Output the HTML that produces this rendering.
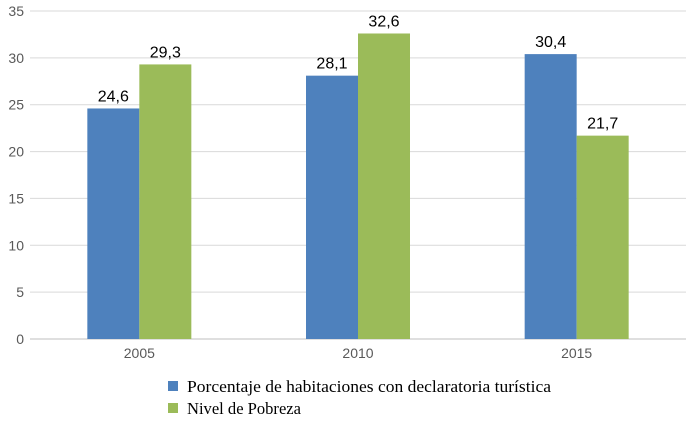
<!DOCTYPE html>
<html><head><meta charset="utf-8"><style>
html,body{margin:0;padding:0;background:#fff;}
svg{display:block;}
</style></head><body>
<svg id="chart" width="691" height="423" xmlns="http://www.w3.org/2000/svg">
<g id="grid"></g>
<g id="yticks"></g>
<g id="bars"></g>
<g id="xticks"></g>
<g>
  <rect x="168" y="381" width="10" height="10" fill="#4e81bd"/>
  <text x="187" y="392" font-family="Liberation Serif, serif" font-size="17" fill="#000" textLength="364" lengthAdjust="spacingAndGlyphs">Porcentaje de habitaciones con declaratoria turística</text>
  <rect x="168" y="403" width="10" height="10" fill="#9bbb59"/>
  <text x="187" y="414" font-family="Liberation Serif, serif" font-size="17" fill="#000" textLength="114" lengthAdjust="spacingAndGlyphs">Nivel de Pobreza</text>
</g>
</svg>
<script>
const categories = ["2005","2010","2015"];
const habitaciones = [24.6, 28.1, 30.4];
const pobreza = [29.3, 32.6, 21.7];
const yTicks = [0,5,10,15,20,25,30,35];
const valueLabels1 = ["24,6","28,1","30,4"];
const valueLabels2 = ["29,3","32,6","21,7"];

const NS="http://www.w3.org/2000/svg";
const left=30, right=686, y0=339, yTop=11, yMax=35;
const yS=v=>y0-(v/yMax)*(y0-yTop);
const catW=(right-left)/categories.length;
const cx=i=>left+catW*(i+0.5);
const bw=52;
function mk(tag,attrs,parent){const e=document.createElementNS(NS,tag);for(const k in attrs)e.setAttribute(k,attrs[k]);parent.appendChild(e);return e;}
const grid=document.getElementById('grid'),yt=document.getElementById('yticks'),bars=document.getElementById('bars'),xt=document.getElementById('xticks');
yTicks.forEach(v=>{
  const l=mk('line',{x1:left,x2:right,y1:yS(v),y2:yS(v),stroke:v===0?'#bfbfbf':'#d9d9d9','stroke-width':1},grid);
  
  
  const t=mk('text',{x:24,y:yS(v)+5,'text-anchor':'end','font-family':'Liberation Sans, sans-serif','font-size':14,fill:'#595959'},yt);
  t.textContent=v;
  
  
});
categories.forEach((c,i)=>{
  const series=[[habitaciones,'#4e81bd',valueLabels1,-bw,'habitaciones'],[pobreza,'#9bbb59',valueLabels2,0,'pobreza']];
  series.forEach(([vals,col,lab,off,nm])=>{
    const x=cx(i)+off;
    const r=mk('rect',{x:x,y:yS(vals[i]),width:bw,height:y0-yS(vals[i]),fill:col},bars);
    
    
    const t=mk('text',{x:x+bw/2,y:yS(vals[i])-7,'text-anchor':'middle','font-family':'Liberation Sans, sans-serif','font-size':16,fill:'#000'},bars);
    t.textContent=lab[i];
    
    
  });
  const t=mk('text',{x:cx(i),y:358,'text-anchor':'middle','font-family':'Liberation Sans, sans-serif','font-size':14,fill:'#595959'},xt);
  t.textContent=c;
  
  
});
</script>
</body></html>
